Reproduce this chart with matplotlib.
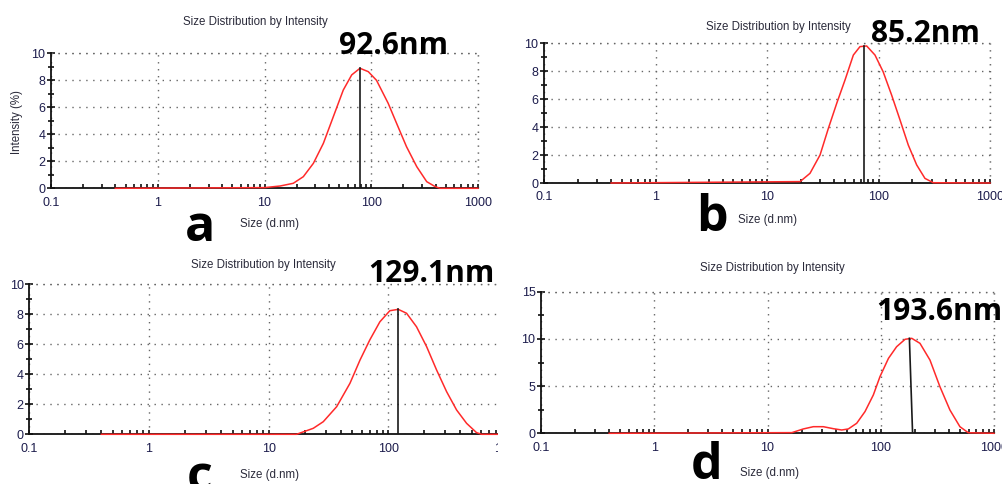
import numpy as np
import matplotlib.pyplot as plt
from matplotlib.patches import Rectangle
from matplotlib.ticker import FixedLocator, NullFormatter

# (size in d.nm, intensity in %)
size_a = [0.4, 10, 14, 18.6, 23.1, 28.7, 35.6, 44.1, 54.7, 65.6, 78.4, 93.8, 112, 144,
          173, 214, 267, 331, 398, 441, 1000]
int_a = [0, 0.05, 0.17, 0.37, 0.86, 1.85, 3.33, 5.3, 7.28, 8.4, 8.89, 8.64, 8.0, 6.3,
         4.8, 3.08, 1.6, 0.49, 0.12, 0, 0]
size_b = [0.4, 19.8, 24.3, 29.9, 35.5, 42.2, 50.1, 59.5, 68.2, 78.3, 93, 110, 131, 156,
          185, 220, 261, 310, 1000]
int_b = [0, 0.1, 0.69, 2.0, 3.9, 5.69, 7.36, 9.14, 9.74, 9.79, 9.14, 7.95, 6.29, 4.5,
         2.71, 1.29, 0.33, 0.02, 0]
size_c = [0.4, 17.1, 23.6, 28.6, 37, 47.8, 58, 70, 85, 103, 121, 142, 172, 209, 253,
          307, 372, 451, 546, 602, 1000]
int_c = [0, 0, 0.4, 0.84, 1.84, 3.4, 4.95, 6.29, 7.5, 8.24, 8.33, 8.07, 7.17, 5.84, 4.29,
         2.84, 1.62, 0.73, 0.11, 0, 0]
size_d = [0.4, 16.4, 20.7, 25.4, 31.1, 38.1, 45.2, 51.7, 61.3, 72.6, 86, 98.4, 117, 138,
          164, 188, 222, 272, 333, 408, 500, 593, 1000]
int_d = [0, 0.07, 0.46, 0.7, 0.7, 0.49, 0.35, 0.46, 1.06, 2.3, 4.06, 6.0, 7.94, 9.17,
         9.96, 10.06, 9.53, 7.76, 4.94, 2.47, 0.7, 0.06, 0]

peak_labels = ["92.6nm", "85.2nm", "129.1nm", "193.6nm"]
peak_x = [(78.4, 78.4), (74, 74), (121, 121), (179, 191)]
peak_y = [8.89, 9.79, 8.33, 10.06]
panel_letters = ["a", "b", "c", "d"]
y_max = [10, 10, 10, 15]
y_major = [[0, 2, 4, 6, 8, 10], [0, 2, 4, 6, 8, 10], [0, 2, 4, 6, 8, 10], [0, 5, 10, 15]]
y_minor = [[1, 3, 5, 7, 9], [1, 3, 5, 7, 9], [1, 3, 5, 7, 9], [2.5, 7.5, 12.5]]

W, H = 1002, 484
fig = plt.figure(figsize=(W / 100, H / 100), dpi=100)
plt.rcParams['font.family'] = ['Liberation Sans', 'DejaVu Sans']

# pixel boxes: left, right(x=1000), top(y max), bottom(y=0)
boxes = [(51, 478, 53.3, 188.3), (544, 990, 43, 183),
         (29.3, 508, 284.3, 434.3), (541, 994, 291.7, 433.3)]
titles_xy = [(255, 22), (778, 27), (263, 265), (772, 268)]
ann_xy = [(394, 46), (925, 34), (431, 274), (939, 312)]
letter_xy = [(200, 228), (712, 218), (200, 478), (707, 466)]
xlab_xy = [(270, 224), (768, 220), (270, 475), (770, 473)]

tick_col = '#1c1c4c'
text_col = '#2a2a3a'
grid_style = dict(color='#666666', lw=1.0, linestyle=(0, (1, 4)))
datasets = [(size_a, int_a), (size_b, int_b), (size_c, int_c), (size_d, int_d)]

def fx(px):
    return px / W

def fy(py):
    return 1 - py / H

for i, (xs, ys) in enumerate(datasets):
    l, r, t, b = boxes[i]
    ax = fig.add_axes([fx(l), fy(b), fx(r - l), (b - t) / H])
    ax.set_xscale('log')
    ax.set_xlim(0.1, 1000)
    ax.set_ylim(0, y_max[i])
    ax.patch.set_alpha(0)
    for s in ['top', 'right']:
        ax.spines[s].set_visible(False)
    for s in ['left', 'bottom']:
        ax.spines[s].set_linewidth(1.3)
        ax.spines[s].set_color('#111111')

    ax.plot(xs, ys, color='#ff2a2a', lw=1.1, zorder=3, clip_on=False)
    ax.plot(peak_x[i], [peak_y[i], 0], color='#1a1a1a', lw=1.2, zorder=4)

    ax.set_xticks([0.1, 1, 10, 100, 1000])
    ax.set_xticklabels(['0.1', '1', '10', '100', '1000'])
    minors = [m * 10.0 ** e for e in range(-1, 3) for m in range(2, 10)]
    ax.xaxis.set_minor_locator(FixedLocator(minors))
    ax.xaxis.set_minor_formatter(NullFormatter())
    ax.set_yticks(y_major[i])
    ax.yaxis.set_minor_locator(FixedLocator(y_minor[i]))
    ax.tick_params(axis='x', which='both', direction='in', length=3, width=1.2,
                   color='#111111', labelsize=9, labelcolor=tick_col, pad=6)
    ax.tick_params(axis='y', which='major', direction='inout', length=6, width=1.2,
                   color='#111111', labelsize=9, labelcolor=tick_col, pad=1)
    ax.tick_params(axis='y', which='minor', direction='inout', length=5, width=1.2,
                   color='#111111')
    ax.grid(True, which='major', **grid_style)
    # edge grid lines at top and right
    ax.axhline(y_max[i], clip_on=False, **grid_style)
    ax.axvline(1000, clip_on=False, **grid_style)

    tx, ty = titles_xy[i]
    fig.text(fx(tx), fy(ty), 'Size Distribution by Intensity', ha='center', va='center',
             fontsize=8.3, color=text_col)
    axx, axy = ann_xy[i]
    fig.text(fx(axx), fy(axy), peak_labels[i], ha='center', va='center',
             fontsize=21.5, fontweight='bold', color='black', family=['Open Sans', 'DejaVu Sans'])
    lx, ly = letter_xy[i]
    fig.text(fx(lx), fy(ly), panel_letters[i], ha='center', va='center',
             fontsize=36, fontweight='bold', color='black', family=['Open Sans', 'DejaVu Sans'])
    xx, xy = xlab_xy[i]
    fig.text(fx(xx), fy(xy), 'Size (d.nm)', ha='center', va='center',
             fontsize=8.3, color=text_col)

fig.text(fx(17), fy(122), 'Intensity (%)', rotation=90, ha='center', va='center',
         fontsize=8.3, color=text_col)

# crop edge between lower panels: hide the part of panel c beyond x=497
fig.add_artist(Rectangle((fx(497.5), 0), fx(14), fy(250), transform=fig.transFigure,
                         facecolor='white', edgecolor='none', zorder=10))
fig.add_artist(Rectangle((fx(497.5), fy(465)), fx(27), (465 - 440) / H,
                         transform=fig.transFigure, facecolor='white', edgecolor='none',
                         zorder=10))

fig.savefig('out.png', dpi=100)
